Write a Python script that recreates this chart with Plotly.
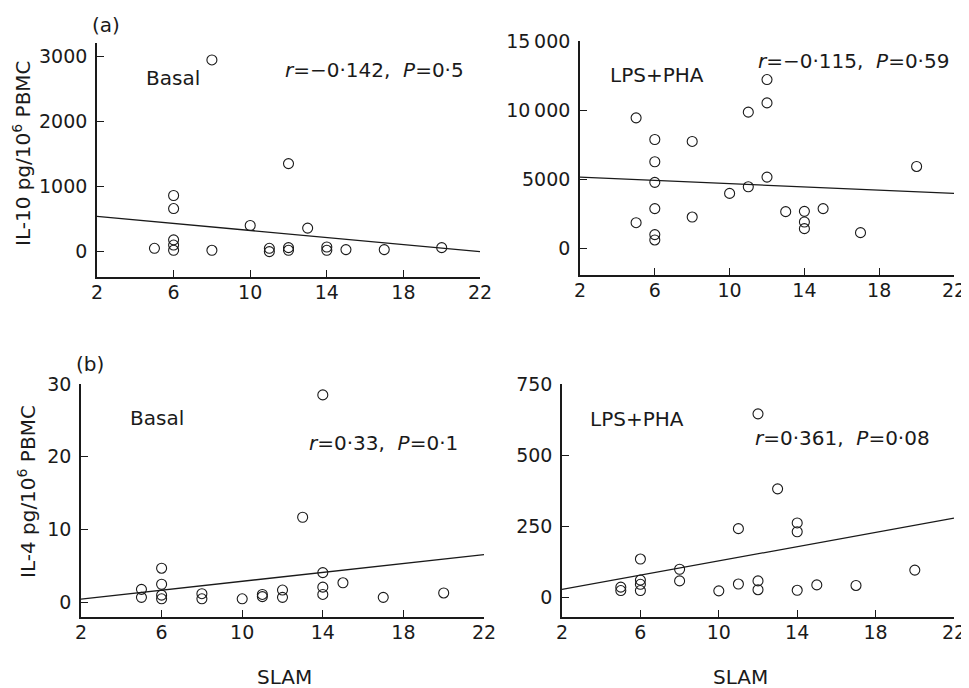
import plotly.graph_objects as go

W, H = 969, 688
OFF = 8  # page body margin offset of the figure div

# ---------------- data ----------------
# (a) IL-10, basal
a_basal_x = [5, 6, 6, 6, 6, 6, 8, 8, 10, 11, 11, 12, 12, 12, 13, 14, 14, 15, 17, 20]
a_basal_y = [50, 860, 660, 180, 100, 20, 2940, 20, 400, 50, 0, 1350, 60, 20, 360, 70, 20, 30, 30, 60]
a_basal_fit_x = [2, 22]
a_basal_fit_y = [540, 0]

# (a) IL-10, LPS+PHA
a_lps_x = [5, 5, 6, 6, 6, 6, 6, 6, 8, 8, 10, 11, 11, 12, 12, 12, 13, 14, 14, 14, 15, 17, 20]
a_lps_y = [9440, 1850, 7870, 6260, 4770, 2870, 990, 600, 7730, 2260, 3970, 9850, 4450,
           12210, 10520, 5150, 2650, 2670, 1900, 1420, 2870, 1130, 5920]
a_lps_fit_x = [2, 22]
a_lps_fit_y = [5150, 3970]

# (b) IL-4, basal
b_basal_x = [5, 5, 6, 6, 6, 6, 8, 8, 10, 11, 11, 12, 12, 13, 14, 14, 14, 14, 15, 17, 20]
b_basal_y = [1.8, 0.7, 4.7, 2.5, 1.0, 0.5, 1.2, 0.5, 0.5, 1.1, 0.8, 1.7, 0.7, 11.7,
             28.5, 4.1, 2.1, 1.1, 2.7, 0.7, 1.3]
b_basal_fit_x = [2, 22]
b_basal_fit_y = [0.46, 6.57]

# (b) IL-4, LPS+PHA
b_lps_x = [5, 5, 6, 6, 6, 6, 8, 8, 10, 11, 11, 12, 12, 12, 13, 14, 14, 14, 15, 17, 20]
b_lps_y = [35, 23, 134, 60, 45, 23, 98, 57, 22, 241, 46, 645, 57, 26, 381, 261, 230, 24, 43, 41, 95]
b_lps_fit_x = [2, 22]
b_lps_fit_y = [27, 278]

x_ticks = [2, 6, 10, 14, 18, 22]
a_basal_yticks = [0, 1000, 2000, 3000]
a_basal_yticktext = ["0", "1000", "2000", "3000"]
a_lps_yticks = [0, 5000, 10000, 15000]
a_lps_yticktext = ["0", "5000", "10\u2009000", "15\u2009000"]
b_basal_yticks = [0, 10, 20, 30]
b_basal_yticktext = ["0", "10", "20", "30"]
b_lps_yticks = [0, 250, 500, 750]
b_lps_yticktext = ["0", "250", "500", "750"]

# ---------------- layout helpers ----------------
FONT = "DejaVu Sans"
INK = "#1a1a1a"
FS_TICK = 19
FS_TEXT = 20


def fx(px):
    return (px - OFF) / W


def fy(py):
    return 1 - (py - OFF) / H


fig = go.Figure()

panels = [
    (a_basal_x, a_basal_y, a_basal_fit_x, a_basal_fit_y, (97, 480), (43, 277), [-390, 3200],
     a_basal_yticks, a_basal_yticktext),
    (a_lps_x, a_lps_y, a_lps_fit_x, a_lps_fit_y, (580, 954), (41, 275), [-1935, 15000],
     a_lps_yticks, a_lps_yticktext),
    (b_basal_x, b_basal_y, b_basal_fit_x, b_basal_fit_y, (81, 484), (384, 617), [-2.0, 30],
     b_basal_yticks, b_basal_yticktext),
    (b_lps_x, b_lps_y, b_lps_fit_x, b_lps_fit_y, (562, 954), (384, 617), [-70, 750],
     b_lps_yticks, b_lps_yticktext),
]

layout = {}
for i, (xs, ys, fxv, fyv, xd, yd, yr, yt, ytt) in enumerate(panels, start=1):
    sx = "" if i == 1 else str(i)
    fig.add_trace(go.Scatter(
        x=fxv, y=fyv, mode="lines", line=dict(color=INK, width=1.3),
        xaxis="x" + sx, yaxis="y" + sx, showlegend=False, hoverinfo="skip"))
    fig.add_trace(go.Scatter(
        x=xs, y=ys, mode="markers",
        marker=dict(symbol="circle-open", size=10, color=INK, line=dict(width=1.1)),
        xaxis="x" + sx, yaxis="y" + sx, showlegend=False))
    common = dict(showline=True, linecolor=INK, linewidth=1.6, ticks="inside",
                  ticklen=7, tickwidth=1.2, tickcolor=INK, showgrid=False,
                  zeroline=False, mirror=False, automargin=False,
                  tickfont=dict(family=FONT, size=FS_TICK, color=INK))
    layout["xaxis" + sx] = dict(common, domain=[fx(xd[0]), fx(xd[1])], range=[2, 22],
                                tickvals=x_ticks, anchor="y" + sx,
                                ticklabelstandoff=-3)
    layout["yaxis" + sx] = dict(common, domain=[fy(yd[1]), fy(yd[0])], range=yr,
                                tickvals=yt, ticktext=ytt, anchor="x" + sx,
                                ticklabelstandoff=4)

fig.update_layout(**layout)

ann = []


def text(t, x, y, size=FS_TEXT, xanchor="center", angle=0):
    ann.append(dict(text=t, x=fx(x), y=fy(y), xref="paper", yref="paper",
                    xanchor=xanchor, yanchor="middle", showarrow=False, textangle=angle,
                    font=dict(family=FONT, size=size, color=INK)))


text("(a)", 106, 25)
text("(b)", 90, 364)
text("Basal", 173, 78)
text("<i>r</i>=\u22120\u00b7142,  <i>P</i>=0\u00b75", 283, 70, xanchor="left")
text("LPS+PHA", 657, 75)
text("<i>r</i>=\u22120\u00b7115,  <i>P</i>=0\u00b759", 756, 61, xanchor="left")
text("Basal", 157, 418)
text("<i>r</i>=0\u00b733,  <i>P</i>=0\u00b71", 307, 443, xanchor="left")
text("LPS+PHA", 637, 419)
text("<i>r</i>=0\u00b7361,  <i>P</i>=0\u00b708", 753, 438, xanchor="left")
text("IL-10 pg/10<sup>6</sup> PBMC", 22, 153, angle=-90)
text("IL-4 pg/10<sup>6</sup> PBMC", 27, 492, angle=-90)
text("SLAM", 284, 677)
text("SLAM", 740, 677)

fig.update_layout(
    template="none",
    annotations=ann,
    width=W, height=H,
    margin=dict(l=0, r=0, t=0, b=0),
    paper_bgcolor="white", plot_bgcolor="white",
    font=dict(family=FONT, color=INK),
)

fig.write_html("out.html", config={"displayModeBar": False})
